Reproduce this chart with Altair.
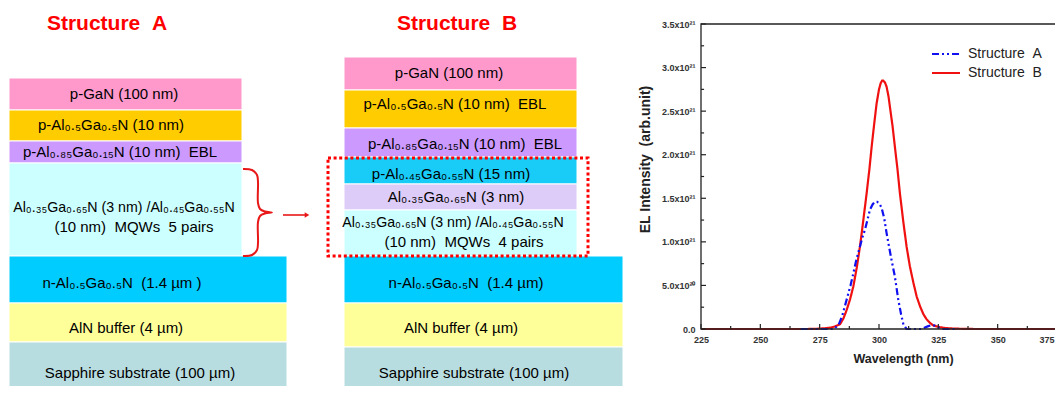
import re
import altair as alt
import pandas as pd

FONT = "Liberation Sans"
NB = "\u00a0"
SUB = str.maketrans("0123456789", "₀₁₂₃₄₅₆₇₈₉")

# ---------------- EL spectra (wavelength in nm, intensity in units of 1e21 arb.) ----------------
wl_b = [225, 250, 270, 274, 277, 279.4, 281.5, 283.6, 285, 286.4, 287.8, 289.2, 290.6, 292.0, 293.4,
        294.8, 295.9, 296.9, 298, 299.0, 300, 300.7, 301.3, 301.8, 302.5, 303.2, 304.0, 304.6, 305.7,
        306.7, 307.8, 308.8, 310.2, 311.6, 313, 314.5, 315.9, 317.3, 318.7, 320.1, 321.5, 322.9, 325.7,
        328.5, 332, 340, 375]
int_b = [0, 0, 0, 0.003, 0.008, 0.015, 0.03, 0.055, 0.12, 0.22, 0.34, 0.49, 0.70, 0.95, 1.25,
         1.56, 1.82, 2.09, 2.36, 2.59, 2.75, 2.82, 2.85, 2.85, 2.83, 2.78, 2.67, 2.55, 2.33,
         2.09, 1.83, 1.56, 1.24, 0.95, 0.72, 0.53, 0.37, 0.26, 0.17, 0.11, 0.07, 0.04, 0.02,
         0.01, 0.004, 0, 0]
wl_a = [267, 270, 274, 278, 281, 283, 284.5, 286.4, 288, 289.2, 290.5, 292, 293, 294.1, 295.2,
        296.2, 297.3, 298.3, 299.2, 300.2, 301.1, 302.2, 303.2, 304.2, 305.3, 306.7, 308.1, 309.3,
        310.3, 311.6, 314, 318, 320.5, 322, 323.5, 325, 327, 332]
int_a = [0, 0, 0, 0, 0, 0.05, 0.15, 0.34, 0.5, 0.64, 0.8, 0.95, 1.05, 1.14, 1.26,
         1.37, 1.43, 1.46, 1.46, 1.44, 1.39, 1.27, 1.10, 0.95, 0.79, 0.60, 0.34, 0.17,
         0.05, 0, 0, 0, 0.03, 0.045, 0.04, 0.02, 0, 0]
series_names = ["Structure" + NB + NB + "A", "Structure" + NB + NB + "B"]
series_colors = ["#1010F0", "#F01010"]

x_major = [225, 250, 275, 300, 325, 350, 375]
x_minor = [237.5, 262.5, 287.5, 312.5, 337.5, 362.5]
y_major = [0, 0.5, 1.0, 1.5, 2.0, 2.5, 3.0, 3.5]
y_minor = [0.25, 0.75, 1.25, 1.75, 2.25, 2.75, 3.25]

# ---------------- layer-stack diagrams (diagram units) ----------------
layer_left = [9] * 7 + [344] * 9
layer_right = [242, 242, 242, 242, 287, 287, 287, 577, 577, 577, 577, 577, 577, 623, 623, 623]
layer_top = [78, 110, 141, 163, 256, 303, 342, 57, 90, 128, 157, 184, 210, 256, 303, 347]
layer_bottom = [110, 141, 163, 256, 303, 342, 394, 90, 128, 157, 184, 210, 256, 303, 347, 394]
layer_fill = ["#FF99CC", "#FFCC00", "#CC99FF", "#CCFFFF", "#00CCFF", "#FFFF99", "#B8DDE1",
              "#FF99CC", "#FFCC00", "#CC99FF", "#19CCF8", "#DDCBF8", "#CCFFFF", "#00CCFF", "#FFFF99", "#B8DDE1"]

label_text = [
    "p-GaN (100 nm)", "p-Al_{0.5}Ga_{0.5}N (10 nm)", "p-Al_{0.85}Ga_{0.15}N (10 nm)  EBL",
    "Al_{0.35}Ga_{0.65}N (3 nm) /Al_{0.45}Ga_{0.55}N", "(10 nm)  MQWs  5 pairs",
    "n-Al_{0.5}Ga_{0.5}N  (1.4 µm )", "AlN buffer (4 µm)", "Sapphire substrate (100 µm)",
    "p-GaN (100 nm)", "p-Al_{0.5}Ga_{0.5}N (10 nm)  EBL", "p-Al_{0.85}Ga_{0.15}N (10 nm)  EBL",
    "p-Al_{0.45}Ga_{0.55}N (15 nm)", "Al_{0.35}Ga_{0.65}N (3 nm)",
    "Al_{0.35}Ga_{0.65}N (3 nm) /Al_{0.45}Ga_{0.55}N", "(10 nm)  MQWs  4 pairs",
    "n-Al_{0.5}Ga_{0.5}N  (1.4 µm)", "AlN buffer (4 µm)", "Sapphire substrate (100 µm)",
]
label_x = [124, 111, 120, 124, 134, 122, 126, 140, 449, 455, 465, 451, 456, 453, 464, 466, 461, 474]
label_y = [94, 125, 152, 208, 227, 283, 328, 373, 73, 104, 144, 174, 197, 223, 242, 283, 328, 373]

title_text = ["Structure  A", "Structure  B"]
title_x = [107, 457]
title_y = [24, 24]

box_x0, box_x1, box_y0, box_y1 = [328], [588], [158], [256]
brace_x = [243, 252, 257, 258, 258, 260, 265, 272, 265, 260, 258, 258, 257, 252, 243]
brace_y = [169, 170, 175, 182, 203, 209, 211.5, 212.5, 213.5, 216, 222, 243, 250, 255, 256]
arrow_x, arrow_x2, arrow_y = [283], [307], [215]


def rich(t):
    t = re.sub(r"_\{([0-9.]+)\}", lambda m: m.group(1).translate(SUB), t)
    return t.replace(" ", NB)


xs_d = alt.Scale(domain=[8, 1055], range=[0, 1047], nice=False, zero=False)
ys_d = alt.Scale(domain=[8, 386], range=[0, 378], nice=False, zero=False)
xs_e = alt.Scale(domain=[225, 375], range=[693, 1049], nice=False, zero=False)
ys_e = alt.Scale(domain=[0, 3.5], range=[321, 16], nice=False, zero=True)

layers_df = pd.DataFrame({"x0": layer_left, "x1": layer_right, "y0": layer_top,
                          "y1": layer_bottom, "fill": layer_fill})
labels_df = pd.DataFrame({"x": label_x, "y": label_y, "raw": label_text,
                          "text": [rich(t) for t in label_text]})
labels_df["long"] = labels_df["raw"].str.contains("/")
titles_df = pd.DataFrame({"x": title_x, "y": title_y, "text": [rich(t) for t in title_text]})
box_df = pd.DataFrame({"x0": box_x0, "x1": box_x1, "y0": box_y0, "y1": box_y1})
brace_df = pd.DataFrame({"x": brace_x, "y": brace_y, "i": list(range(len(brace_x)))})
arrow_df = pd.DataFrame({"x": arrow_x, "x2": arrow_x2, "y": arrow_y})

rects = alt.Chart(layers_df).mark_rect(stroke="white", strokeWidth=1, clip=True).encode(
    x=alt.X("x0:Q", scale=xs_d, axis=None), x2="x1:Q",
    y=alt.Y("y0:Q", scale=ys_d, axis=None), y2="y1:Q",
    fill=alt.Fill("fill:N", scale=None),
)
labels = alt.Chart(labels_df[~labels_df["long"]]).mark_text(
    font=FONT, fontSize=15, color="#000000", align="center", baseline="middle").encode(
    x=alt.X("x:Q", scale=xs_d, axis=None), y=alt.Y("y:Q", scale=ys_d, axis=None), text="text:N")
labels_long = alt.Chart(labels_df[labels_df["long"]]).mark_text(
    font=FONT, fontSize=14.2, color="#000000", align="center", baseline="middle").encode(
    x=alt.X("x:Q", scale=xs_d, axis=None), y=alt.Y("y:Q", scale=ys_d, axis=None), text="text:N")
titles = alt.Chart(titles_df).mark_text(font=FONT, fontSize=21, fontWeight="bold", color="#FF0000",
                                        align="center", baseline="middle").encode(
    x=alt.X("x:Q", scale=xs_d, axis=None), y=alt.Y("y:Q", scale=ys_d, axis=None), text="text:N")
box = alt.Chart(box_df).mark_rect(fill="white", fillOpacity=0, stroke="#FF0000", strokeWidth=3,
                                  strokeDash=[3, 2.6]).encode(
    x=alt.X("x0:Q", scale=xs_d, axis=None), x2="x1:Q",
    y=alt.Y("y0:Q", scale=ys_d, axis=None), y2="y1:Q")
brace = alt.Chart(brace_df).mark_line(color="#E81818", strokeWidth=2, interpolate="catmull-rom").encode(
    x=alt.X("x:Q", scale=xs_d, axis=None), y=alt.Y("y:Q", scale=ys_d, axis=None), order="i:Q")
arrow = alt.Chart(arrow_df).mark_rule(color="#E81818", strokeWidth=1.6).encode(
    x=alt.X("x:Q", scale=xs_d, axis=None), x2="x2:Q", y=alt.Y("y:Q", scale=ys_d, axis=None))
arrow_head = alt.Chart(arrow_df).mark_point(shape="triangle-right", filled=True, size=28,
                                            color="#E81818", opacity=1).encode(
    x=alt.X("x2:Q", scale=xs_d, axis=None), y=alt.Y("y:Q", scale=ys_d, axis=None))

diagram = alt.layer(rects, box, labels, labels_long, titles, brace, arrow, arrow_head)

# ---------------- EL chart ----------------
spec_b = pd.DataFrame({"wl": wl_b, "val": int_b, "series": series_names[1]})
spec_a = pd.DataFrame({"wl": wl_a, "val": int_a, "series": series_names[0]})

color_scale = alt.Scale(domain=series_names, range=series_colors)
dash_scale = alt.Scale(domain=series_names, range=[[7, 3, 2, 3, 2, 3], [1, 0]])
legend = alt.Legend(title=None, orient="none", legendX=931, legendY=39, padding=0,
                    symbolType="M-2.8,0H2.8", symbolSize=100, symbolStrokeWidth=2,
                    labelFont=FONT, labelFontSize=14, labelColor="#222222", labelOffset=15,
                    rowPadding=5)

x_axis = alt.Axis(orient="bottom", offset=-57, domain=False, ticks=False, grid=False,
                  values=x_major, format="d", labelFlush=False, labelOverlap=False,
                  labelAlign={"condition": {"test": "datum.value >= 375", "value": "right"},
                              "value": "center"},
                  labelOffset={"condition": {"test": "datum.value >= 375", "value": -3},
                               "value": 0},
                  labelFont=FONT, labelFontSize=9, labelFontWeight="bold", labelColor="#333333",
                  labelPadding=6, title="Wavelength (nm)", titleFont=FONT, titleFontSize=12.5,
                  titleFontWeight="bold", titleColor="#222222", titleX=895, titleY=29,
                  titleAlign="center", titleBaseline="middle")
y_axis = alt.Axis(orient="left", offset=-693, domain=False, ticks=False, grid=False,
                  values=y_major, labelFlush=False, labelOverlap=False,
                  labelExpr="datum.value == 0 ? '0.0' : (datum.value < 0.99 ? format(datum.value*10, '.1f') + 'x10²⁰' : format(datum.value, '.1f') + 'x10²¹')",
                  labelFont=FONT, labelFontSize=9, labelFontWeight="bold", labelColor="#333333",
                  labelPadding=6, title="EL Intensity" + NB + NB + "(arb.unit)", titleFont=FONT,
                  titleFontSize=14, titleFontWeight="bold", titleColor="#222222",
                  titleX=-56, titleY=151, titleAngle=270, titleAlign="center",
                  titleBaseline="middle")

line_b = alt.Chart(spec_b).mark_line(strokeWidth=2.2).encode(
    x=alt.X("wl:Q", scale=xs_e, axis=x_axis),
    y=alt.Y("val:Q", scale=ys_e, axis=y_axis),
    color=alt.Color("series:N", scale=color_scale, legend=legend),
    strokeDash=alt.StrokeDash("series:N", scale=dash_scale, legend=legend),
)
line_a = alt.Chart(spec_a).mark_line(strokeWidth=2.2).encode(
    x=alt.X("wl:Q", scale=xs_e), y=alt.Y("val:Q", scale=ys_e),
    color=alt.Color("series:N", scale=color_scale, legend=legend),
    strokeDash=alt.StrokeDash("series:N", scale=dash_scale, legend=legend),
)

TX_MAJ, TX_MIN = 0.058, 0.035   # tick lengths in intensity units (x-axis ticks)
TY_MAJ, TY_MIN = 2.1, 1.3       # tick lengths in nm (y-axis ticks)
ticks_rows = []
for v in x_major:
    ticks_rows.append({"x": v, "x2": v, "y": 0, "y2": TX_MAJ})
for v in x_minor:
    ticks_rows.append({"x": v, "x2": v, "y": 0, "y2": TX_MIN})
for v in y_major:
    ticks_rows.append({"x": 225, "x2": 225 + TY_MAJ, "y": v, "y2": v})
for v in y_minor:
    ticks_rows.append({"x": 225, "x2": 225 + TY_MIN, "y": v, "y2": v})
ticks_df = pd.DataFrame(ticks_rows)
ticks = alt.Chart(ticks_df).mark_rule(color="#222222", strokeWidth=1.2).encode(
    x=alt.X("x:Q", scale=xs_e), x2="x2:Q", y=alt.Y("y:Q", scale=ys_e), y2="y2:Q")

frame_df = pd.DataFrame({"x": [x_major[0]], "x2": [x_major[-1]], "y": [y_major[0]], "y2": [y_major[-1]]})
frame = alt.Chart(frame_df).mark_rect(fill="white", fillOpacity=0, stroke="#222222",
                                      strokeWidth=1.3).encode(
    x=alt.X("x:Q", scale=xs_e), x2="x2:Q", y=alt.Y("y:Q", scale=ys_e), y2="y2:Q")

el = alt.layer(line_b, line_a, ticks, frame)

chart = alt.layer(diagram, el).resolve_scale(
    x="independent", y="independent", color="independent", strokeDash="independent"
).properties(
    width=1047, height=378, autosize=alt.AutoSizeParams(type="none"), padding=0,
    background="white"
).configure_view(stroke=None)

chart.save("out.html", embed_options={"renderer": "svg", "actions": False})
